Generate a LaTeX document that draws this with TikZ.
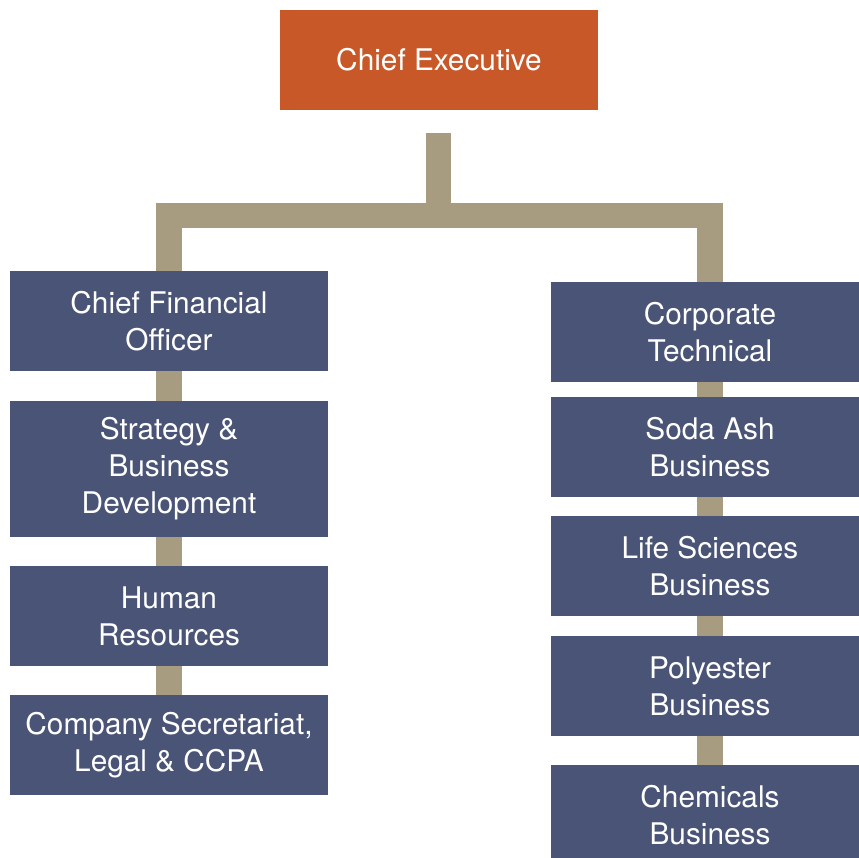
\documentclass[tikz,border=0pt]{standalone}
\usepackage{fontspec}
\setmainfont{TeX Gyre Heros}
\usetikzlibrary{calc,backgrounds}
\definecolor{ceorange}{HTML}{C85828}
\definecolor{unitnavy}{HTML}{4A5476}
\definecolor{linktan}{HTML}{A79B80}
\begin{document}
\begin{tikzpicture}[x=1pt,y=-1pt,
  unit/.style={fill=unitnavy, text=white, minimum width=318pt, minimum height=100pt,
    inner sep=0pt, align=center, font=\fontsize{29.8}{37}\selectfont},
  head/.style={unit, fill=ceorange},
  link/.style={draw=linktan, line width=25.5pt}]
\useasboundingbox (0,0) rectangle (859,857);
\clip (0,0) rectangle (859,857);

% top of the chart
\node[head] (ce) at (439,60) {Chief Executive};

% left column
\node[unit] (cfo) at (169,321) {Chief Financial\\Officer};
\node[unit, minimum height=136pt] (sbd) at (169,469) {Strategy \&\\Business\\Development};
\node[unit] (hr)  at (169,616) {Human\\Resources};
\node[unit] (cs)  at (169,745) {Company Secretariat,\\Legal \& CCPA};

% right column
\node[unit] (ct) at (710,332) {Corporate\\Technical};
\node[unit] (sa) at (710,447) {Soda Ash\\Business};
\node[unit] (ls) at (710,566) {Life Sciences\\Business};
\node[unit] (pb) at (710,686) {Polyester\\Business};
\node[unit] (cb) at (710,815) {Chemicals\\Business};

\coordinate (bar) at (438.5,215.5);

% connectors behind the boxes
\begin{pgfonlayer}{background}
  \draw[link] ($(ce.south)+(-0.5,23)$) -- ($(bar)+(0,12.75)$);
  \draw[link] (cfo.north) |- (bar) -| (ct.north);
  \draw[link] (cfo) -- (sbd) -- (hr) -- (cs);
  \draw[link] (ct) -- (sa) -- (ls) -- (pb) -- (cb);
\end{pgfonlayer}
\end{tikzpicture}
\end{document}
